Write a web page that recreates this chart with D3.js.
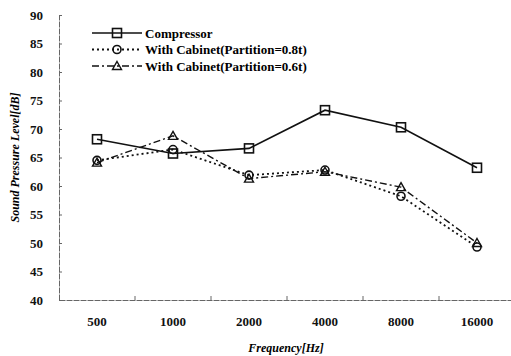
<!DOCTYPE html>
<html>
<head>
<meta charset="utf-8">
<script src="https://cdn.jsdelivr.net/npm/d3@7"></script>
<style>
  body { margin: 0; background: #fff; }
  svg { display: block; font-family: "Liberation Serif", "Times New Roman", serif; }
</style>
</head>
<body>
<div id="chart"></div>
<script>
// Data
const frequencies = ["500", "1000", "2000", "4000", "8000", "16000"];
const compressor = [68.2, 65.7, 66.6, 73.3, 70.3, 63.2];
const cabinet08 = [64.5, 66.4, 61.9, 62.8, 58.2, 49.3];
const cabinet06 = [64.1, 68.8, 61.3, 62.5, 59.8, 50.0];
const yTicks = [40, 45, 50, 55, 60, 65, 70, 75, 80, 85, 90];

const width = 511;
const height = 356;
const margin = { left: 59, top: 15, right: -4, bottom: 56 };

const svg = d3.select('#chart')
    .append('svg')
    .attr('width', width)
    .attr('height', height);

const x = d3.scaleBand()
    .domain(frequencies)
    .range([margin.left, width - margin.right]);

const y = d3.scaleLinear()
    .domain([40, 90])
    .range([height - margin.bottom, margin.top]);

// Axes
const yAxis = svg.append('g')
    .attr('transform', `translate(${margin.left},0)`)
    .call(d3.axisLeft(y).tickValues(yTicks).tickSizeInner(-3).tickSizeOuter(0).tickPadding(16));

const xAxis = svg.append('g')
    .attr('transform', `translate(0,${height - margin.bottom})`)
    .call(d3.axisBottom(x).tickSize(0).tickPadding(17));

[yAxis, xAxis].forEach(a => {
    a.select('.domain').attr('stroke', '#666').attr('stroke-dasharray', '6,1');
    a.selectAll('.tick line').attr('stroke', '#666');
    a.selectAll('text')
        .attr('fill', '#111')
        .style('font-size', '13px')
        .style('font-weight', 'bold')
        .style('font-family', '"Liberation Serif", serif');
});

// small x ticks between categories
svg.append('g')
    .selectAll('line')
    .data(frequencies.slice(1))
    .join('line')
    .attr('x1', d => x(d))
    .attr('x2', d => x(d))
    .attr('y1', height - margin.bottom)
    .attr('y2', height - margin.bottom - 4)
    .attr('stroke', '#666');

// Axis titles
svg.append('text')
    .attr('transform', `translate(19,${(margin.top + height - margin.bottom) / 2}) rotate(-90)`)
    .attr('text-anchor', 'middle')
    .style('font-size', '12px')
    .style('font-weight', 'bold')
    .style('font-style', 'italic')
    .text('Sound Pressure Level[dB]');

svg.append('text')
    .attr('x', 286)
    .attr('y', 352)
    .attr('text-anchor', 'middle')
    .style('font-size', '12px')
    .style('font-weight', 'bold')
    .style('font-style', 'italic')
    .text('Frequency[Hz]');

const series = [
    { name: 'Compressor', values: compressor, dash: null, marker: 'square', width: 1.6 },
    { name: 'With Cabinet(Partition=0.8t)', values: cabinet08, dash: '2,3', marker: 'circle', width: 1.8 },
    { name: 'With Cabinet(Partition=0.6t)', values: cabinet06, dash: '7,3,2,3', marker: 'triangle', width: 1.4 }
];

const line = d3.line()
    .x((d, i) => x(frequencies[i]) + x.bandwidth() / 2)
    .y(d => y(d));

function drawMarker(g, type, cx, cy) {
    if (type === 'square') {
        g.append('rect')
            .attr('x', cx - 4.5).attr('y', cy - 4.5)
            .attr('width', 9).attr('height', 9)
            .attr('fill', 'none').attr('stroke', '#111').attr('stroke-width', 1.6);
    } else if (type === 'circle') {
        g.append('circle')
            .attr('cx', cx).attr('cy', cy).attr('r', 4)
            .attr('fill', 'none').attr('stroke', '#111').attr('stroke-width', 1.6);
    } else {
        g.append('path')
            .attr('d', `M${cx},${cy - 4.5}L${cx + 4.5},${cy + 3.5}L${cx - 4.5},${cy + 3.5}Z`)
            .attr('fill', 'none').attr('stroke', '#111').attr('stroke-width', 1.4);
    }
}

series.forEach(s => {
    svg.append('path')
        .datum(s.values)
        .attr('d', line)
        .attr('fill', 'none')
        .attr('stroke', '#111')
        .attr('stroke-width', s.width)
        .attr('stroke-dasharray', s.dash);
    const g = svg.append('g');
    s.values.forEach((v, i) => {
        drawMarker(g, s.marker, x(frequencies[i]) + x.bandwidth() / 2, y(v));
    });
});

// Legend
const legend = svg.append('g').attr('transform', 'translate(92,33)');
series.forEach((s, i) => {
    const row = legend.append('g').attr('transform', `translate(0,${i * 16.5})`);
    row.append('line')
        .attr('x1', 0).attr('x2', 50)
        .attr('stroke', '#111')
        .attr('stroke-width', s.width)
        .attr('stroke-dasharray', s.dash);
    drawMarker(row, s.marker, 25, 0);
    row.append('text')
        .attr('x', 53)
        .attr('y', 4.5)
        .style('font-size', '13px')
        .style('font-weight', 'bold')
        .text(s.name);
});
</script>
</body>
</html>
